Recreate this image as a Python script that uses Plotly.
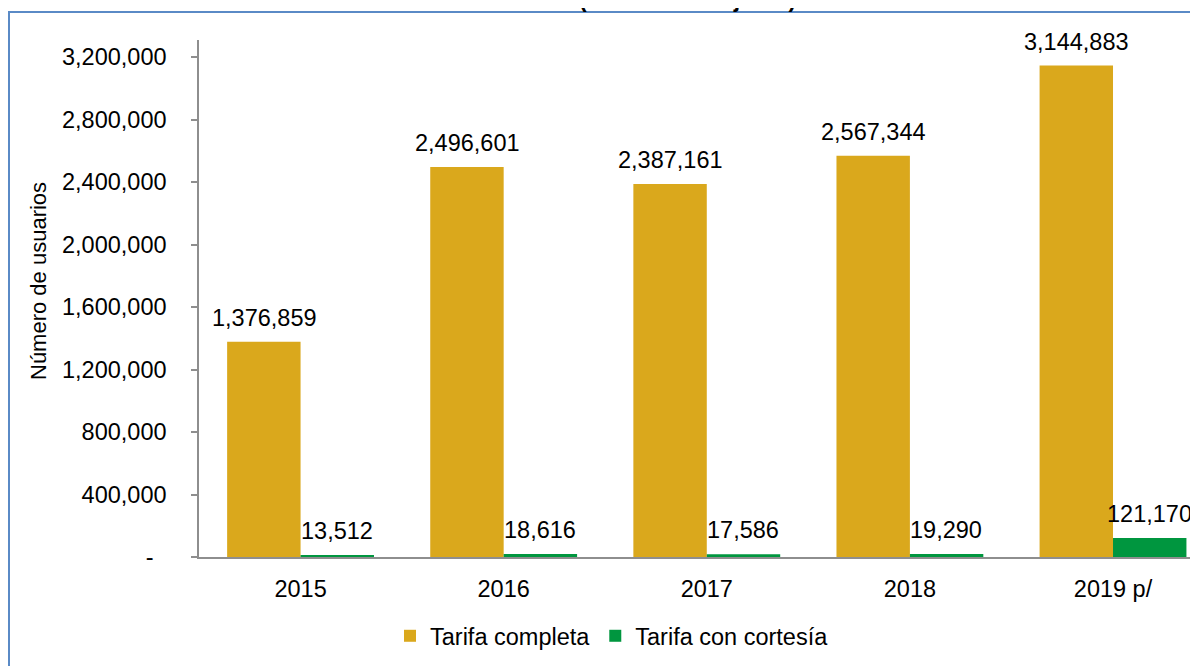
import plotly.graph_objects as go

# ---- data ----
categories = ["2015", "2016", "2017", "2018", "2019 p/"]
tarifa_completa = [1376859, 2496601, 2387161, 2567344, 3144883]
tarifa_cortesia = [13512, 18616, 17586, 19290, 121170]
y_tick_vals = [0, 400000, 800000, 1200000, 1600000, 2000000, 2400000, 2800000, 3200000]
y_tick_text = ["-\u2007", "400,000", "800,000", "1,200,000", "1,600,000",
               "2,000,000", "2,400,000", "2,800,000", "3,200,000"]
series_names = ["Tarifa completa", "Tarifa con cortesía"]
title_fragment = "<b>(acumulado a junio)</b>"
y_title = "Número de usuarios"

# ---- styling / layout constants ----
OFF = 8  # page body margin of the html page
W, H = 1198, 666
L, T = 199 - OFF, 40 - OFF
x_axis_px = 557 - OFF
R = 0
B = H - x_axis_px
plot_w = W - L - R
plot_h = x_axis_px - T
cat_px = 201.5
x_max = -0.5 + (1198 - 199) / cat_px
y_max = 3308800
bargap = 0.277
orange = "#DAA81C"
green = "#00963F"
axis_gray = "#8E8E8E"
font_family = "Liberation Sans, Arial, sans-serif"
num_size = 23.5


def px_x(page_x):
    return (page_x - OFF - L) / plot_w


def px_y(page_y):
    return (x_axis_px - (page_y - OFF)) / plot_h


fig = go.Figure()
fig.add_trace(go.Bar(x=categories, y=tarifa_completa, name=series_names[0],
                     marker=dict(color=orange, line=dict(width=0))))
fig.add_trace(go.Bar(x=categories, y=tarifa_cortesia, name=series_names[1],
                     marker=dict(color=green, line=dict(width=0))))

bar_w_px = (1 - bargap) / 2 * cat_px
annotations = []
for series, shift in ((tarifa_completa, -bar_w_px / 2), (tarifa_cortesia, bar_w_px / 2)):
    for i, v in enumerate(series):
        annotations.append(dict(x=i, y=v, xref="x", yref="y", text=f"{v:,}",
                                showarrow=False, xanchor="center", yanchor="bottom",
                                xshift=shift, yshift=9,
                                font=dict(size=num_size, color="black", family=font_family)))

# partially visible title (cut at the top of the image)
annotations.append(dict(x=px_x(687), y=px_y(14), xref="paper", yref="paper",
                        text=title_fragment, showarrow=False, xanchor="center", yanchor="bottom",
                        font=dict(size=23, color="black", family=font_family)))
# y axis title
annotations.append(dict(x=px_x(38), y=px_y(281), xref="paper", yref="paper",
                        text=y_title, showarrow=False, textangle=-90,
                        xanchor="center", yanchor="middle",
                        font=dict(size=22, color="black", family=font_family)))

# outer chart border (blue frame)
shapes = [dict(type="rect", xref="paper", yref="paper",
               x0=px_x(9), x1=px_x(1230), y0=px_y(700), y1=px_y(12),
               line=dict(color="#5A8AC6", width=2), fillcolor="rgba(0,0,0,0)", layer="below")]

fig.update_layout(
    width=W, height=H,
    margin=dict(l=L, r=R, t=T, b=B, pad=0, autoexpand=False),
    paper_bgcolor="white", plot_bgcolor="white",
    barmode="group", bargap=bargap, bargroupgap=0,
    font=dict(family=font_family, size=22, color="black"),
    showlegend=True,
    legend=dict(orientation="h", x=px_x(612), xanchor="center",
                y=px_y(636), yanchor="middle",
                font=dict(size=23.5, color="black", family=font_family),
                itemwidth=30, bgcolor="rgba(0,0,0,0)"),
    annotations=annotations,
    shapes=shapes,
    xaxis=dict(type="category", range=[-0.5, x_max], showline=True, linecolor=axis_gray,
               linewidth=1.5, ticks="", showgrid=False, zeroline=False,
               tickfont=dict(size=num_size, family=font_family), ticklabelstandoff=10),
    yaxis=dict(range=[0, y_max], tickvals=y_tick_vals, ticktext=y_tick_text,
               showline=True, linecolor=axis_gray, linewidth=1.5,
               ticks="outside", ticklen=6, tickcolor=axis_gray, tickwidth=1.5,
               showgrid=False, zeroline=False,
               tickfont=dict(size=num_size, family=font_family), ticklabelstandoff=20),
)

fig.write_html("out.html")
